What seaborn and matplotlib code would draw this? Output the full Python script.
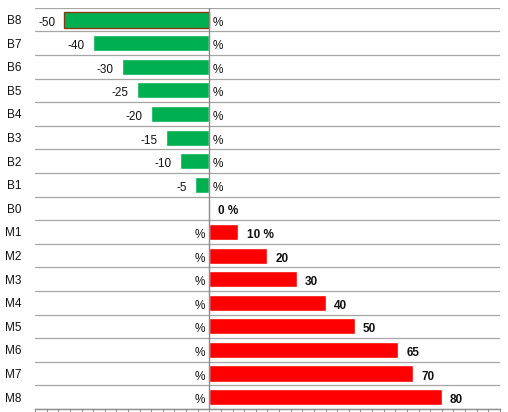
import numpy as np
import pandas as pd
import matplotlib
matplotlib.use("Agg")
import matplotlib.pyplot as plt
import seaborn as sns

# Data
categories = ["B8", "B7", "B6", "B5", "B4", "B3", "B2", "B1", "B0",
              "M1", "M2", "M3", "M4", "M5", "M6", "M7", "M8"]
values = [-50, -40, -30, -25, -20, -15, -10, -5, 0,
          10, 20, 30, 40, 50, 65, 70, 80]
value_labels = ["-50", "-40", "-30", "-25", "-20", "-15", "-10", "-5", "0 %",
                "10 %", "20", "30", "40", "50", "65", "70", "80"]
x_ticks = np.arange(-60, 101, 4)

sns.set_theme(style="white")
plt.rcParams['font.family'] = ['Liberation Sans', 'DejaVu Sans']

df = pd.DataFrame({"cat": categories, "val": values})
df["sign"] = np.where(df["val"] < 0, "neg", "pos")

fig, ax = plt.subplots(figsize=(5.08, 4.12), dpi=100)
fig.subplots_adjust(left=0.069, right=0.984, top=0.981, bottom=0.0075)

sns.barplot(data=df, x="val", y="cat", hue="sign", orient="h",
            palette={"neg": "#00B050", "pos": "#FF0000"},
            dodge=False, width=0.68, legend=False, ax=ax, saturation=1)

# outline on the first bar (selected look in the original)
for patch in ax.patches:
    if abs(patch.get_y() + patch.get_height() / 2) < 0.01 and patch.get_width() < 0:
        patch.set_edgecolor("#843C0C")
        patch.set_linewidth(1.0)

ax.set_xlim(-60, 100)
ax.set_ylim(len(categories) - 0.5, -0.5)
ax.set_xlabel("")
ax.set_ylabel("")

# row separators
ax.set_yticks(np.arange(-0.5, len(categories), 1), minor=True)
ax.grid(axis="y", which="minor", color="#A6A6A6", linewidth=0.9)
ax.tick_params(axis="y", which="both", length=0, pad=9.5, labelsize=8.5,
               labelcolor="#111111")

ax.set_xticks(x_ticks)
ax.set_xticklabels([])
ax.tick_params(axis="x", which="major", direction="out", length=2,
               width=0.7, color="#8C8C8C", bottom=True)

for side in ["left", "right", "top"]:
    ax.spines[side].set_visible(False)
ax.spines["bottom"].set_color("#8C8C8C")
ax.spines["bottom"].set_linewidth(1.0)
ax.axvline(0, color="#8C8C8C", linewidth=1.0, zorder=3)

dy = -2.2  # labels sit a little below the bar centre
for i, (v, lab) in enumerate(zip(values, value_labels)):
    if v < 0:
        ax.annotate(lab, (v, i), xytext=(-6, dy), textcoords="offset points",
                    ha="right", va="center", fontsize=8.5, color="#111111")
        ax.annotate("%", (0, i), xytext=(2, dy), textcoords="offset points",
                    ha="left", va="center", fontsize=8.5, color="#111111")
    elif v == 0:
        ax.annotate(lab, (v, i), xytext=(6, dy), textcoords="offset points",
                    ha="left", va="center", fontsize=8.5, fontweight="bold",
                    color="#111111")
    else:
        ax.annotate("%", (0, i), xytext=(-3, dy), textcoords="offset points",
                    ha="right", va="center", fontsize=8.5, color="#111111")
        ax.annotate(lab, (v, i), xytext=(6, dy), textcoords="offset points",
                    ha="left", va="center", fontsize=8.5, fontweight="bold",
                    color="#111111")

fig.savefig("out.png", dpi=100)
